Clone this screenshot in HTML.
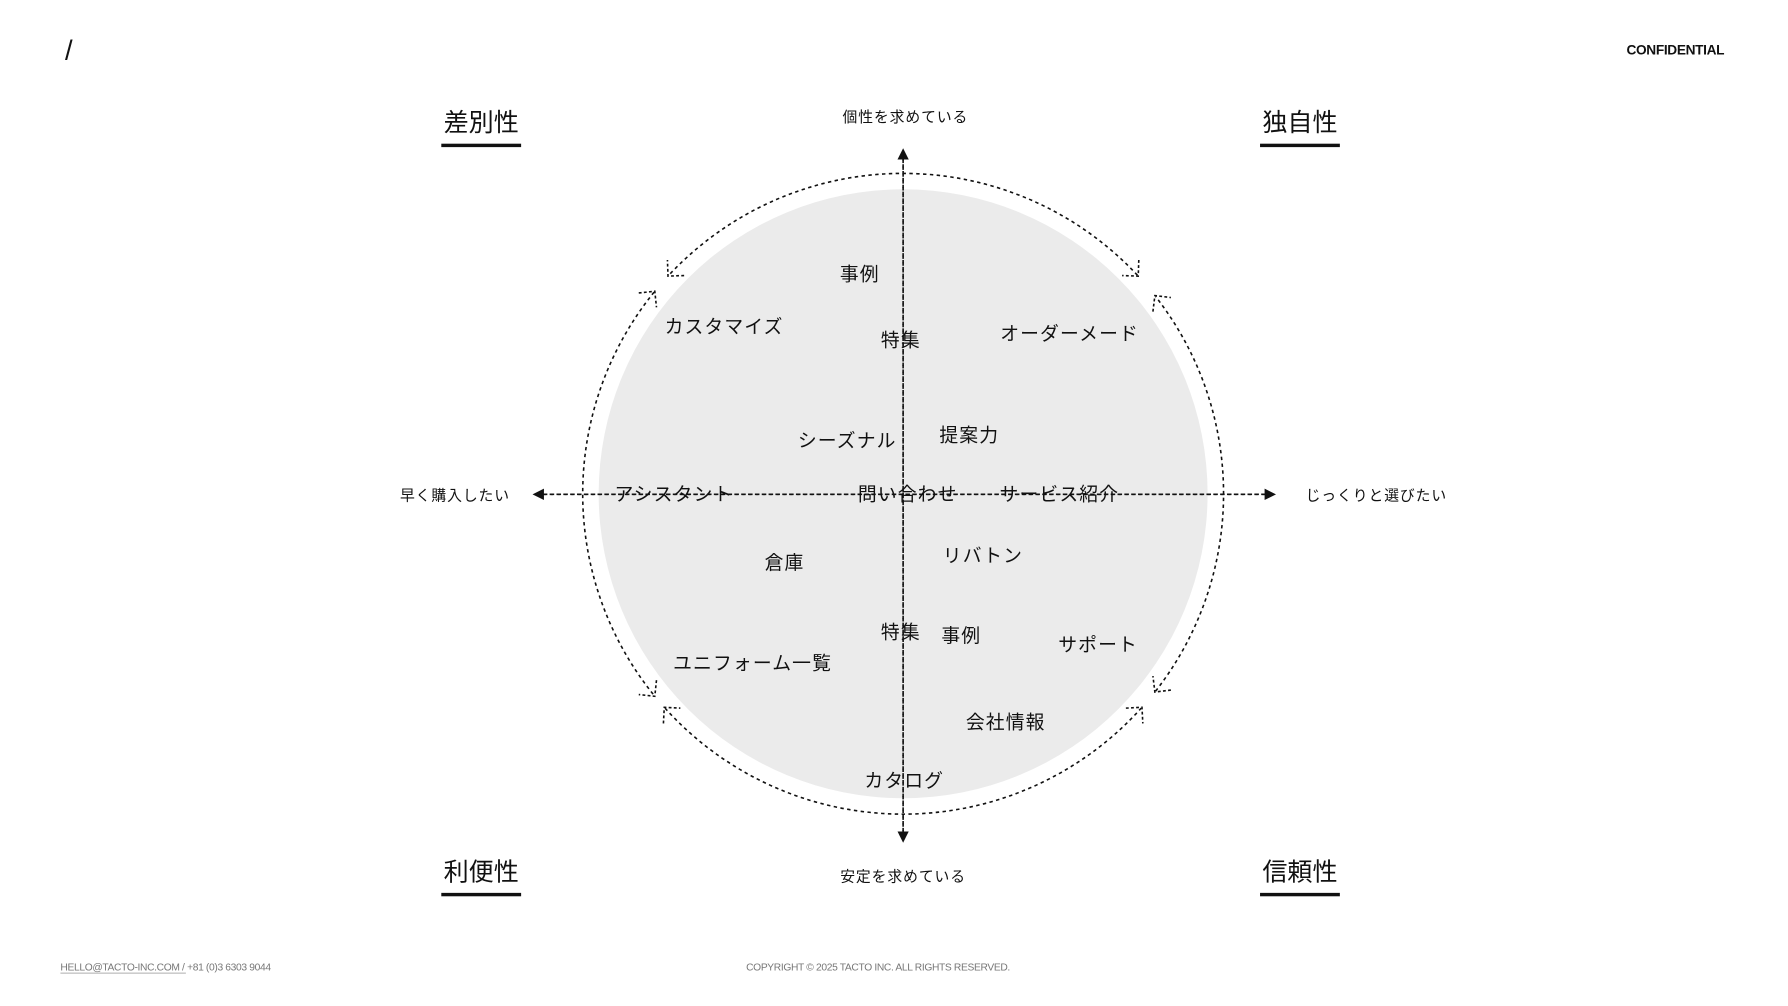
<!DOCTYPE html>
<html><head><meta charset="utf-8"><style>
html,body{margin:0;padding:0;background:#fff;}
svg{display:block;}
text{font-family:"Liberation Sans","Noto Sans CJK JP",sans-serif;fill:#111;}
.it{font-size:16.5px;letter-spacing:1px;}
.ax{font-size:13px;letter-spacing:0.8px;}
.q{font-size:22px;}
.ft{font-size:9px;fill:#777;letter-spacing:-0.3px;}
</style></head><body>
<svg width="1788" height="1006" viewBox="0 0 1568 882.2" xmlns="http://www.w3.org/2000/svg">
<defs>
<marker id="oa" markerUnits="userSpaceOnUse" markerWidth="26" markerHeight="26" refX="13" refY="13" orient="auto-start-reverse" viewBox="0 0 26 26">
<path d="M4,3 L14,13 L4,23" fill="none" stroke="#111" stroke-width="1.4" stroke-dasharray="2.5,2"/>
</marker>
<marker id="fa" markerUnits="userSpaceOnUse" markerWidth="12" markerHeight="12" refX="6" refY="6" orient="auto" viewBox="0 0 12 12">
<path d="M0,1 L10,6 L0,11 Z" fill="#111"/>
</marker>
</defs>
<circle cx="792" cy="433" r="267" fill="#ebebeb"/>
<g fill="none" stroke="#111" stroke-width="1.4" stroke-dasharray="3,3">
<path d="M997.5,241.4 A281,281 0 0 0 586.5,241.4" marker-start="url(#oa)" marker-end="url(#oa)"/>
<path d="M573.6,256.2 A281,281 0 0 0 573.6,609.8" marker-start="url(#oa)" marker-end="url(#oa)"/>
<path d="M583.2,621 A281,281 0 0 0 1000.8,621" marker-start="url(#oa)" marker-end="url(#oa)"/>
<path d="M1013.4,606.1 A281,281 0 0 0 1013.4,260" marker-start="url(#oa)" marker-end="url(#oa)"/>
<path d="M792,735 L792,134" marker-end="url(#fa)"/>
<path d="M792,134 L792,735" marker-end="url(#fa)"/>
<path d="M471,433.5 L1115,433.5" marker-end="url(#fa)"/>
<path d="M1115,433.5 L471,433.5" marker-end="url(#fa)"/>
</g>
<text x="57" y="52" style="font-size:24px">/</text>
<text x="1512" y="48" text-anchor="end" style="font-size:12px;font-weight:bold;letter-spacing:-0.3px;">CONFIDENTIAL</text>
<g class="q" text-anchor="middle">
<text x="422" y="115">差別性</text>
<text x="1140" y="115">独自性</text>
<text x="422" y="772">利便性</text>
<text x="1140" y="772">信頼性</text>
</g>
<g fill="#111">
<rect x="387" y="126" width="70" height="3"/>
<rect x="1105" y="126" width="70" height="3"/>
<rect x="387" y="783" width="70" height="3"/>
<rect x="1105" y="783" width="70" height="3"/>
</g>
<g class="ax" text-anchor="middle">
<text x="794" y="107">個性を求めている</text>
<text x="792" y="773">安定を求めている</text>
<text x="399" y="439">早く購入したい</text>
<text x="1207" y="439">じっくりと選びたい</text>
</g>
<g class="it" text-anchor="middle">
<text x="754" y="246">事例</text>
<text x="635" y="292">カスタマイズ</text>
<text x="790" y="304">特集</text>
<text x="938" y="298">オーダーメード</text>
<text x="743" y="392">シーズナル</text>
<text x="850" y="387">提案力</text>
<text x="591" y="439">アシスタント</text>
<text x="796" y="439">問い合わせ</text>
<text x="929" y="439">サービス紹介</text>
<text x="688" y="499">倉庫</text>
<text x="862" y="493">リバトン</text>
<text x="790" y="560">特集</text>
<text x="843" y="563">事例</text>
<text x="963" y="571">サポート</text>
<text x="660" y="587">ユニフォーム一覧</text>
<text x="882" y="639">会社情報</text>
<text x="793" y="690">カタログ</text>
</g>
<text class="ft" x="53" y="851">HELLO@TACTO-INC.COM / +81 (0)3 6303 9044</text>
<rect x="53" y="853" width="110" height="0.7" fill="#999"/>
<text class="ft" x="770" y="851" text-anchor="middle">COPYRIGHT © 2025 TACTO INC. ALL RIGHTS RESERVED.</text>
</svg>
</body></html>
